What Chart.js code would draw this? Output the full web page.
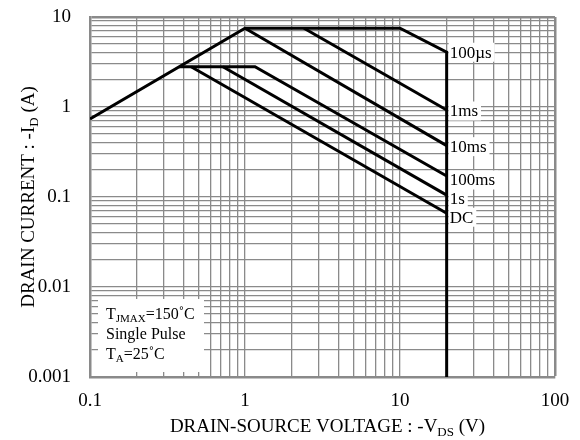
<!DOCTYPE html>
<html>
<head>
<meta charset="utf-8">
<script src="https://cdn.jsdelivr.net/npm/chart.js@4/dist/chart.umd.min.js"></script>
<style>
html,body{margin:0;padding:0;background:#fff;}
#wrap{width:580px;height:440px;position:relative;}
</style>
</head>
<body>
<div id="wrap"><canvas id="c" width="580" height="440"></canvas></div>
<script>
// ---- data ----
const seriesNames = ['100µs', '1ms', '10ms', '100ms', '1s', 'DC'];
const s100usX = [0.1, 1, 10, 20, 20];
const s100usY = [0.735, 7.5, 7.5, 4.06, 0.001];
const s1msX = [2.4, 20];
const s1msY = [7.5, 0.926];
const s10msX = [1, 20];
const s10msY = [7.5, 0.372];
const s100msX = [0.375, 1.16, 20];
const s100msY = [2.8, 2.8, 0.171];
const s1sX = [0.72, 20];
const s1sY = [2.8, 0.105];
const sDCX = [0.449, 20];
const sDCY = [2.8, 0.066];

const xMajor = [0.1, 1, 10, 100];
const xTickLabels = ['0.1', '1', '10', '100'];
const yMajor = [0.001, 0.01, 0.1, 1, 10];
const yTickLabels = ['0.001', '0.01', '0.1', '1', '10'];

const xTitle = [{t: 'DRAIN-SOURCE VOLTAGE : -V'}, {t: 'DS', sub: true}, {t: ' (V)'}];
const yTitle = [{t: 'DRAIN CURRENT : -I'}, {t: 'D', sub: true}, {t: ' (A)'}];
const noteLines = [
  [{t: 'T'}, {t: 'JMAX', sub: true}, {t: '=150˚C'}],
  [{t: 'Single Pulse'}],
  [{t: 'T'}, {t: 'A', sub: true}, {t: '=25˚C'}]
];

// ---- helpers ----
const FONT = '"Liberation Serif", "Times New Roman", serif';
function logGrid(majors) {
  const out = [];
  for (let i = 0; i < majors.length; i++) {
    out.push(majors[i]);
    if (i < majors.length - 1) {
      for (let m = 2; m <= 9; m++) out.push(Number((majors[i] * m).toPrecision(4)));
    }
  }
  return out;
}
function pts(xs, ys) { return xs.map((x, i) => ({x: x, y: ys[i]})); }

function richWidth(ctx, parts, size) {
  let w = 0;
  parts.forEach(p => {
    ctx.font = (p.sub ? Math.round(size * 0.68) : size) + 'px ' + FONT;
    w += ctx.measureText(p.t).width;
  });
  return w;
}
function drawRich(ctx, parts, x, y, size, align) {
  const w = richWidth(ctx, parts, size);
  let cx = align === 'center' ? x - w / 2 : x;
  ctx.textBaseline = 'middle';
  ctx.textAlign = 'left';
  ctx.fillStyle = '#000';
  parts.forEach(p => {
    const s = p.sub ? Math.round(size * 0.68) : size;
    ctx.font = s + 'px ' + FONT;
    ctx.fillText(p.t, cx, p.sub ? y + size * 0.28 : y);
    cx += ctx.measureText(p.t).width;
  });
}

const seriesX = [s100usX, s1msX, s10msX, s100msX, s1sX, sDCX];
const seriesY = [s100usY, s1msY, s10msY, s100msY, s1sY, sDCY];

const datasets = seriesNames.map((n, i) => ({
  label: n,
  data: pts(seriesX[i], seriesY[i]),
  showLine: true,
  borderColor: '#000',
  borderWidth: 3,
  pointRadius: 0,
  fill: false,
  tension: 0,
  borderJoinStyle: 'miter'
}));

const LBL = 17;
const annot = {
  id: 'annot',
  beforeDatasetsDraw(chart) {
    const ctx = chart.ctx;
    const xs = chart.scales.x, ys = chart.scales.y;
    ctx.save();
    // note box
    ctx.fillStyle = '#fff';
    ctx.fillRect(98, 299, 106, 73);
    noteLines.forEach((ln, i) => {
      drawRich(ctx, ln, 106, 315 + i * 20, 16, 'left');
    });
    // series labels
    const dy = [0, 1, 1, 4, 3, 4];
    const anchors = seriesNames.map((n, i) => {
      const X = seriesX[i], Y = seriesY[i];
      const mx = Math.max.apply(null, X);
      let best = -Infinity;
      X.forEach((x, k) => { if (x === mx && Y[k] > best) best = Y[k]; });
      return [xs.getPixelForValue(mx) + 2, ys.getPixelForValue(best) + dy[i]];
    });
    seriesNames.forEach((n, i) => {
      const [px, py] = anchors[i];
      ctx.font = LBL + 'px ' + FONT;
      const w = ctx.measureText(n).width;
      ctx.fillStyle = '#fff';
      ctx.fillRect(px, py - 9.5, w + 4, 19);
    });
    seriesNames.forEach((n, i) => {
      const [px, py] = anchors[i];
      drawRich(ctx, [{t: n}], px + 1, py + 1, LBL, 'left');
    });
    ctx.restore();
  },
  afterDraw(chart) {
    const ctx = chart.ctx;
    const a = chart.chartArea;
    ctx.save();
    drawRich(ctx, xTitle, (a.left + a.right) / 2 + 5, 427, 19, 'center');
    ctx.translate(29, (a.top + a.bottom) / 2);
    ctx.rotate(-Math.PI / 2);
    drawRich(ctx, yTitle, 0, 0, 19, 'center');
    ctx.restore();
  }
};

const gridColor = '#8a8a8a';
function gw(max) { return c => (c.tick && Math.abs(c.tick.value - max) < 1e-9) ? 2.5 : 1.3; }
new Chart(document.getElementById('c'), {
  type: 'scatter',
  data: {datasets: datasets},
  plugins: [annot],
  options: {
    responsive: false,
    animation: false,
    layout: {padding: {top: 17, right: 25, left: 0, bottom: 0}},
    plugins: {legend: {display: false}, tooltip: {enabled: false}},
    scales: {
      x: {
        type: 'logarithmic',
        min: xMajor[0], max: xMajor[xMajor.length - 1],
        afterBuildTicks(s) { s.ticks = logGrid(xMajor).map(v => ({value: v})); },
        afterFit(s) { s.height = 63; s.paddingLeft = 0; s.paddingRight = 0; },
        grid: {color: gridColor, lineWidth: gw(xMajor[xMajor.length - 1]), drawTicks: false},
        border: {color: gridColor, width: 2.5},
        ticks: {
          autoSkip: false, maxRotation: 0, padding: 13, color: '#000',
          font: {family: FONT, size: 19},
          callback(v) { const i = xMajor.indexOf(v); return i >= 0 ? xTickLabels[i] : ''; }
        }
      },
      y: {
        type: 'logarithmic',
        min: yMajor[0], max: yMajor[yMajor.length - 1],
        afterBuildTicks(s) { s.ticks = logGrid(yMajor).map(v => ({value: v})); },
        afterFit(s) { s.width = 90; s.paddingTop = 0; s.paddingBottom = 0; },
        grid: {color: gridColor, lineWidth: gw(yMajor[yMajor.length - 1]), drawTicks: false},
        border: {color: gridColor, width: 2.5},
        ticks: {
          autoSkip: false, padding: 19, color: '#000',
          font: {family: FONT, size: 19},
          callback(v) { const i = yMajor.indexOf(v); return i >= 0 ? yTickLabels[i] : ''; }
        }
      }
    }
  }
});
</script>
</body>
</html>
